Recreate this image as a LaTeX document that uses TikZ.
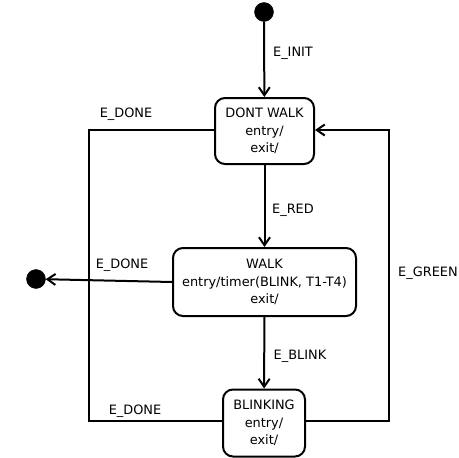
\documentclass[tikz,border=0pt]{standalone}
\usepackage{fontspec}
\setmainfont{DejaVu Sans}
\usetikzlibrary{arrows.meta}
\begin{document}
\begin{tikzpicture}[x=1pt,y=-1pt,
  every node/.style={font=\fontsize{12.9}{17.5}\selectfont},
  state/.style={draw,line width=2pt,rounded corners=10pt,align=center,inner sep=0pt},
  pseudo/.style={circle,fill=black,draw=black,minimum size=19pt,inner sep=0pt},
  lbl/.style={inner sep=0pt},
  conn/.style={line width=2pt},
  arr/.style={conn,-{Straight Barb[length=8pt,width=11pt,line width=2pt]}}]
\useasboundingbox (0,0) rectangle (459,458);
\node[pseudo] (init) at (264,12) {};
\node[pseudo] (final) at (36,279) {};
\node[state,minimum width=99pt,minimum height=66pt] (dw) at (264.5,131) {DONT WALK\\entry/\\exit/};
\node[state,minimum width=183pt,minimum height=68pt] (walk) at (264.5,282) {WALK\\entry/timer(BLINK, T1-T4)\\exit/};
\node[state,minimum width=82pt,minimum height=67pt] (blink) at (264,423) {BLINKING\\entry/\\exit/};
\coordinate (dl) at (89,130);
\coordinate (bl) at (89,421);
\coordinate (br) at (389,421);
\coordinate (dr) at (389,130);
\draw[arr] (init) -- (dw);
\draw[arr] (dw) -- (walk);
\draw[arr] (walk) -- (blink);
\draw[arr] (walk.west) -- (final);
\draw[conn] (dw.west |- dl) -- (dl) -- (bl) -- (blink.west |- bl);
\draw[arr] (blink.east |- br) -- (br) -- (dr) -- (dw.east |- dr);
\node[lbl] (linit) at (293,53) {E\_INIT};
\node[lbl] (lred) at (293,210) {E\_RED};
\node[lbl] (lblink) at (300,356) {E\_BLINK};
\node[lbl] (lgreen) at (428,273) {E\_GREEN};
\node[lbl] (ld1) at (126,114) {E\_DONE};
\node[lbl] (ld2) at (122,265) {E\_DONE};
\node[lbl] (ld3) at (135,411) {E\_DONE};
\end{tikzpicture}
\end{document}
